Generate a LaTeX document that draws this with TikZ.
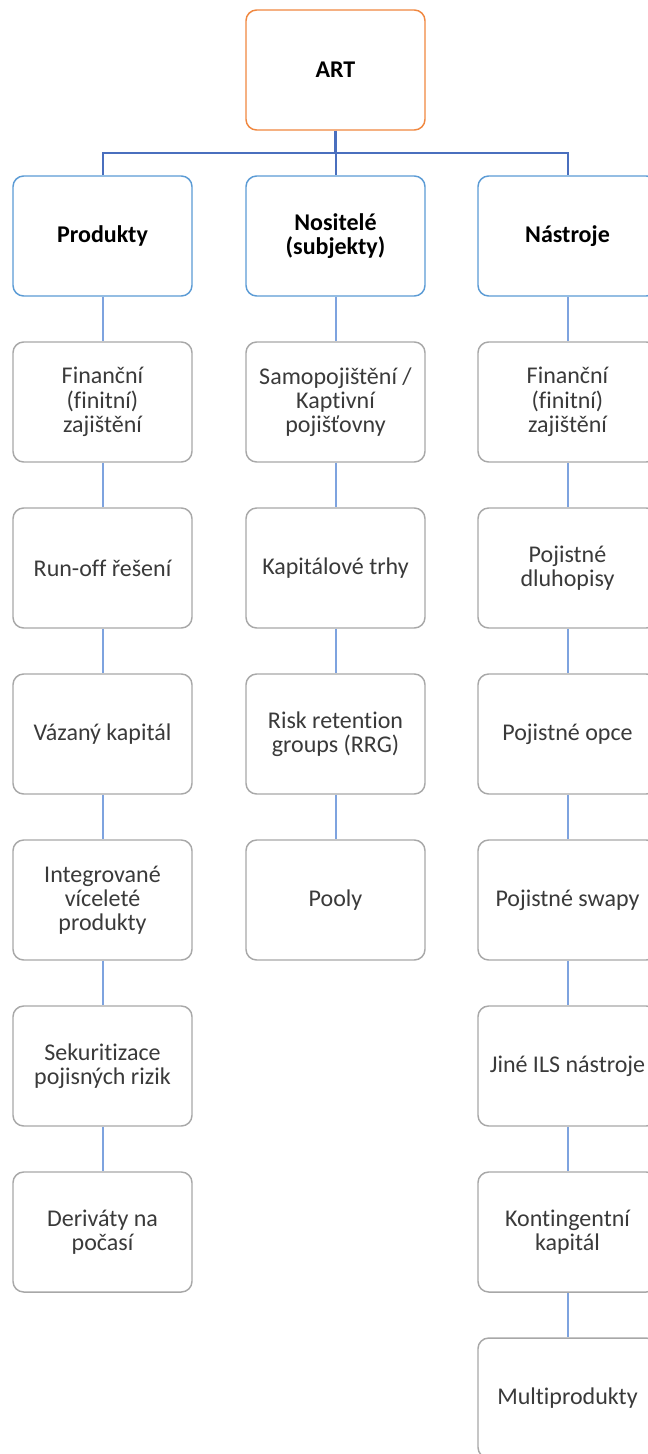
\documentclass[tikz,border=0pt]{standalone}
\usepackage{fontspec}
\setmainfont{Carlito}[Ligatures=NoCommon]
\definecolor{artorange}{HTML}{F0873F}
\definecolor{headblue}{HTML}{5B9BD5}
\definecolor{busblue}{HTML}{4A6FBE}
\definecolor{chainblue}{HTML}{7EA3DF}
\definecolor{itemgrey}{HTML}{A8A8A8}
\definecolor{itemtext}{HTML}{3A3A3A}
\begin{document}
\begin{tikzpicture}[x=0.75pt,y=-0.75pt,
  box/.style={draw, rounded corners=8pt, minimum width=134.25pt, minimum height=90pt,
    align=center, inner sep=0pt, line width=1.1pt, fill=white,
    font=\fontsize{18}{18.2}\selectfont},
  rootbox/.style={box, draw=artorange, font=\fontsize{18}{18.2}\selectfont\bfseries},
  headbox/.style={box, draw=headblue, font=\fontsize{18}{18.2}\selectfont\bfseries},
  itembox/.style={box, draw=itemgrey, text=itemtext},
  stem/.style={draw=busblue, line width=2pt},
  bus/.style={draw=busblue, line width=1.5pt},
  chain/.style={draw=chainblue, line width=1.5pt}]
\useasboundingbox (0,0) rectangle (648,1454);
\clip (0,0) rectangle (648,1454);

% root and column heads
\node[rootbox] (art) at (335.5,70) {ART};
\node[headbox] (prod) at (102.5,236) {Produkty};
\node[headbox] (nos)  at (335.5,236) {Nositelé\\(subjekty)};
\node[headbox] (nas)  at (567.5,236) {Nástroje};

% column 1: products
\node[itembox] (p1) at (102.5,402)  {Finanční\\(finitní)\\zajištění};
\node[itembox] (p2) at (102.5,568)  {Run-off řešení};
\node[itembox] (p3) at (102.5,734)  {Vázaný kapitál};
\node[itembox] (p4) at (102.5,900)  {Integrované\\víceleté\\produkty};
\node[itembox] (p5) at (102.5,1066) {Sekuritizace\\pojisných rizik};
\node[itembox] (p6) at (102.5,1232) {Deriváty na\\počasí};

% column 2: carriers
\node[itembox] (n1) at (335.5,402) {Samopojištění /\\Kaptivní\\pojišťovny};
\node[itembox] (n2) at (335.5,568) {Kapitálové trhy};
\node[itembox] (n3) at (335.5,734) {Risk retention\\groups (RRG)};
\node[itembox] (n4) at (335.5,900) {Pooly};

% column 3: instruments
\node[itembox] (t1) at (567.5,402)  {Finanční\\(finitní)\\zajištění};
\node[itembox] (t2) at (567.5,568)  {Pojistné\\dluhopisy};
\node[itembox] (t3) at (567.5,734)  {Pojistné opce};
\node[itembox] (t4) at (567.5,900)  {Pojistné swapy};
\node[itembox] (t5) at (567.5,1066) {Jiné ILS nástroje};
\node[itembox] (t6) at (567.5,1232) {Kontingentní\\kapitál};
\node[itembox] (t7) at (567.5,1398) {Multiprodukty};

% tree connectors from the root
\coordinate (junction) at (335.5,153);
\draw[stem] (art.south) -- (junction);
\draw[bus] (junction) -| (prod.north);
\draw[bus] (junction) -- (nos.north);
\draw[bus] (junction) -| (nas.north);

% vertical chains
\draw[chain] (prod) -- (p1) (p1) -- (p2) (p2) -- (p3) (p3) -- (p4) (p4) -- (p5) (p5) -- (p6);
\draw[chain] (nos) -- (n1) (n1) -- (n2) (n2) -- (n3) (n3) -- (n4);
\draw[chain] (nas) -- (t1) (t1) -- (t2) (t2) -- (t3) (t3) -- (t4) (t4) -- (t5) (t5) -- (t6) (t6) -- (t7);
\end{tikzpicture}
\end{document}
